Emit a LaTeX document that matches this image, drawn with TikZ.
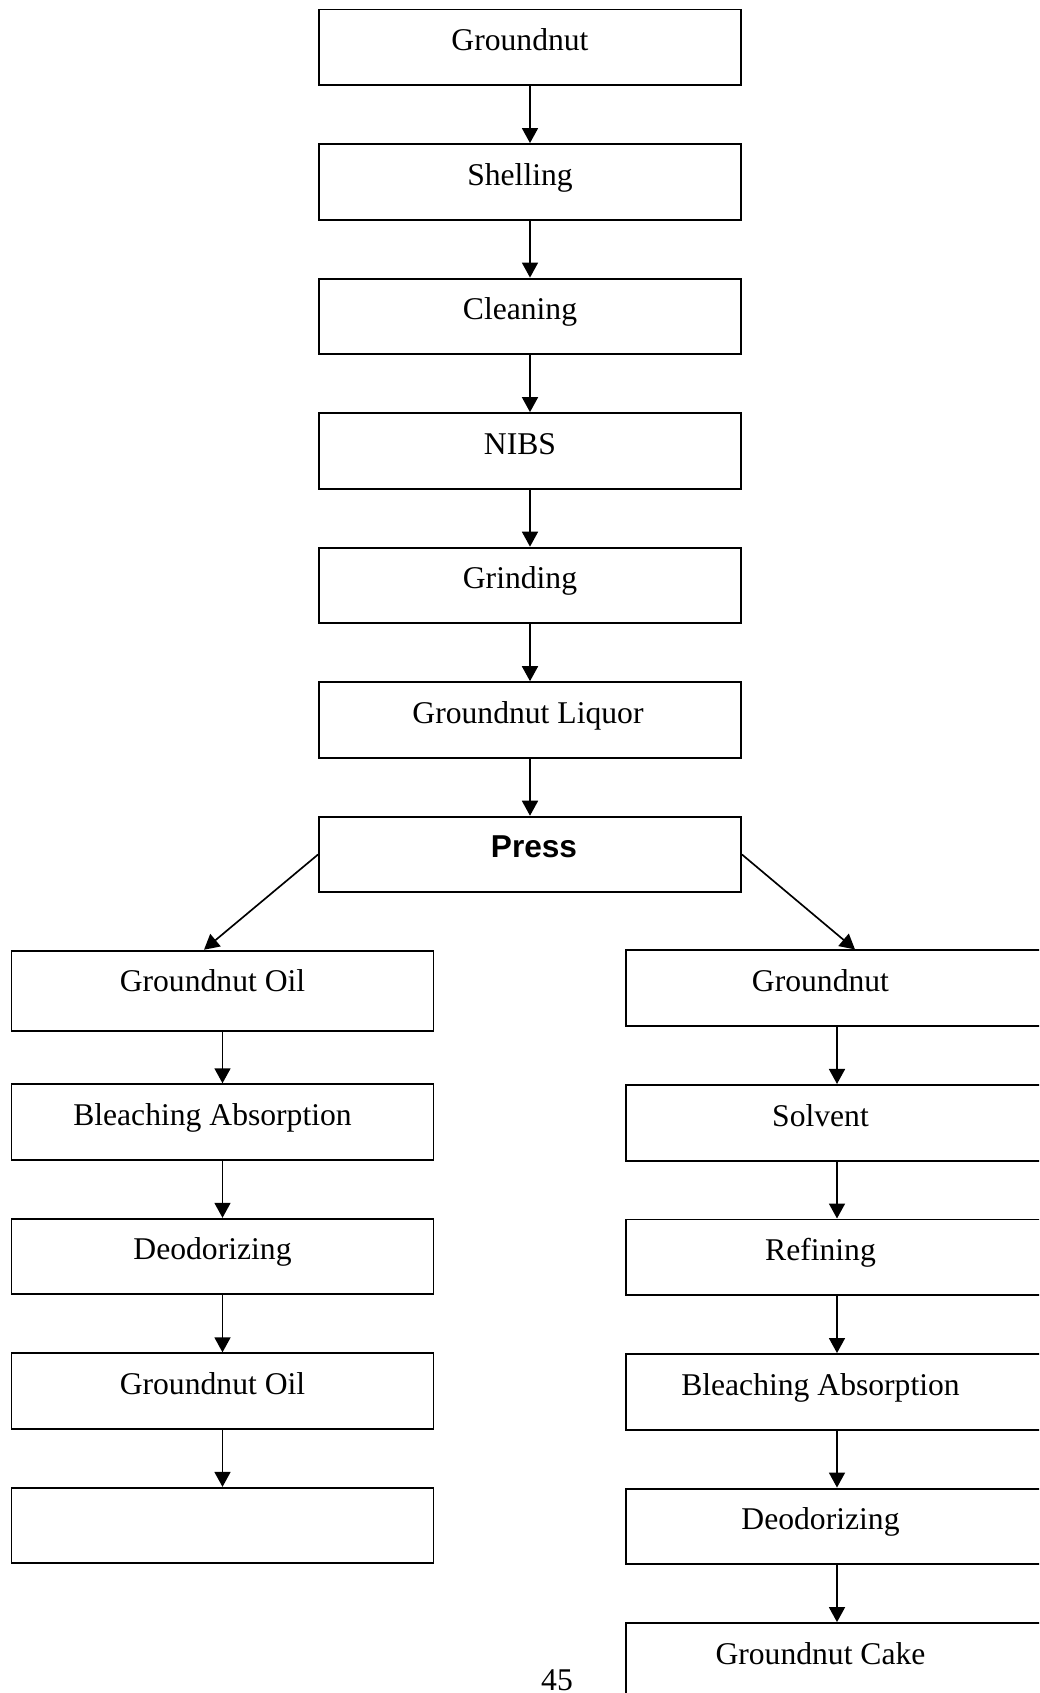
\documentclass[tikz,border=0pt]{standalone}
\usepackage{fontspec}
\setmainfont{Liberation Serif}
\newfontfamily\pressfont{Liberation Sans}
\usetikzlibrary{arrows.meta, positioning}
\tikzset{
  every picture/.style={font=\fontsize{18}{21}\selectfont, line width=1.1pt},
  box/.style={draw, rectangle, minimum width=8.44cm, inner xsep=0pt, inner ysep=0pt, text height=0.822cm, text depth=0.69cm,
              execute at end node={\hspace*{#1}}},
  box/.default=0.4cm,
  arrow/.style={-{Triangle[length=0.3cm, width=0.32cm]}, line width=0.95pt},
  pagenum/.style={anchor=base},
}

\begin{document}
\begin{tikzpicture}[node distance=1.14cm]
  \useasboundingbox (0,0) rectangle (20.78,-33.86);
  \clip (0,0) rectangle (20.78,-33.86);
  % main line
  \node[box] (nut) at (10.6,-0.946) {Groundnut};
  \node[box, below=of nut] (shell) {Shelling};
  \node[box, below=of shell] (clean) {Cleaning};
  \node[box, below=of clean] (nibs) {NIBS};
  \node[box, below=of nibs] (grind) {Grinding};
  \node[box=0.08cm, below=of grind] (liquor) {Groundnut Liquor};
  \node[box=-0.16cm, below=of liquor] (press) {\pressfont\bfseries Press};
  % oil side
  \node[box, text depth=0.79cm] (oilA) at (4.45,-19.82) {Groundnut Oil};
  \node[box, below=1.02cm of oilA] (bleachA) {Bleaching Absorption};
  \node[box, below=of bleachA] (deodA) {Deodorizing};
  \node[box, below=of deodA] (oilB) {Groundnut Oil};
  \node[box, below=of oilB] (blank) {};
  % cake side
  \node[box=0.66cm] (nutB) at (16.74,-19.764) {Groundnut};
  \node[box=0.66cm, below=of nutB] (solvent) {Solvent};
  \node[box=0.66cm, below=of solvent] (refine) {Refining};
  \node[box=0.66cm, below=of refine] (bleachB) {Bleaching Absorption};
  \node[box=0.66cm, below=of bleachB] (deodB) {Deodorizing};
  \node[box=0.66cm, below=of deodB] (cake) {Groundnut Cake};
  \node[pagenum] (pageno) at (11.14,-33.80) {45};
  % arrows
  \foreach \a/\b in {nut/shell, shell/clean, clean/nibs, nibs/grind, grind/liquor, liquor/press,
                     oilA/bleachA, bleachA/deodA, deodA/oilB, oilB/blank,
                     nutB/solvent, solvent/refine, refine/bleachB, bleachB/deodB, deodB/cake}
    \draw[arrow] (\a) -- (\b);
  \draw[arrow] (press.west) -- ([xshift=-0.37cm]oilA.north);
  \draw[arrow] (press.east) -- ([xshift=0.36cm]nutB.north);
\end{tikzpicture}
\end{document}
